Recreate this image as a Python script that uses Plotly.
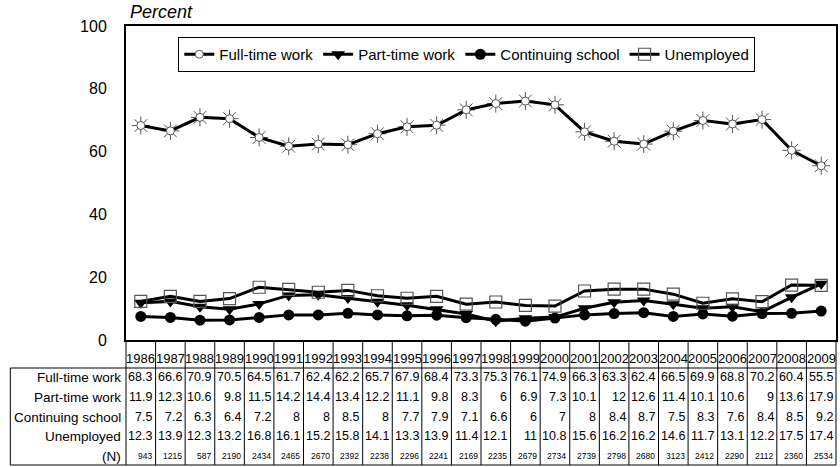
import plotly.graph_objects as go

years = list(range(1986, 2010))
full_time = [68.3, 66.6, 70.9, 70.5, 64.5, 61.7, 62.4, 62.2, 65.7, 67.9, 68.4, 73.3,
             75.3, 76.1, 74.9, 66.3, 63.3, 62.4, 66.5, 69.9, 68.8, 70.2, 60.4, 55.5]
part_time = [11.9, 12.3, 10.6, 9.8, 11.5, 14.2, 14.4, 13.4, 12.2, 11.1, 9.8, 8.3,
             6, 6.9, 7.3, 10.1, 12, 12.6, 11.4, 10.1, 10.6, 9, 13.6, 17.9]
cont_school = [7.5, 7.2, 6.3, 6.4, 7.2, 8, 8, 8.5, 8, 7.7, 7.9, 7.1,
               6.6, 6, 7, 8, 8.4, 8.7, 7.5, 8.3, 7.6, 8.4, 8.5, 9.2]
unemployed = [12.3, 13.9, 12.3, 13.2, 16.8, 16.1, 15.2, 15.8, 14.1, 13.3, 13.9, 11.4,
              12.1, 11, 10.8, 15.6, 16.2, 16.2, 14.6, 11.7, 13.1, 12.2, 17.5, 17.4]
n_counts = [943, 1215, 587, 2190, 2434, 2465, 2670, 2392, 2238, 2296, 2241, 2169,
            2235, 2679, 2734, 2739, 2798, 2680, 3123, 2412, 2290, 2112, 2360, 2534]
row_labels = ["Full-time work", "Part-time work", "Continuing school", "Unemployed", "(N)"]
y_ticks = [0, 20, 40, 60, 80, 100]

FONT = "Liberation Sans, Arial, sans-serif"
fig = go.Figure()

# sun rays for full-time markers (behind)
fig.add_trace(go.Scatter(x=years, y=full_time, mode="markers", showlegend=False,
                         hoverinfo="skip",
                         marker=dict(symbol="asterisk-open", size=15, color="#555",
                                     line=dict(color="#555", width=1))))
fig.add_trace(go.Scatter(x=years, y=full_time, mode="lines+markers", name="Full-time work",
                         line=dict(color="black", width=3),
                         marker=dict(symbol="circle", size=8, color="white",
                                     line=dict(color="#555", width=1))))
fig.add_trace(go.Scatter(x=years, y=part_time, mode="lines+markers", name="Part-time work",
                         line=dict(color="black", width=3),
                         marker=dict(symbol="triangle-down", size=12, color="black")))
fig.add_trace(go.Scatter(x=years, y=cont_school, mode="lines+markers", name="Continuing school",
                         line=dict(color="black", width=3),
                         marker=dict(symbol="circle", size=11, color="black")))
fig.add_trace(go.Scatter(x=years, y=unemployed, mode="lines+markers", name="Unemployed",
                         line=dict(color="black", width=3),
                         marker=dict(symbol="square", size=12, color="rgba(255,255,255,0)",
                                     line=dict(color="#555", width=1.2))))

PLOT_H = 314.0
def py(pix):  # pixel offset below plot bottom -> paper y
    return -pix / PLOT_H

annotations = []
# year row
for yr in years:
    annotations.append(dict(x=yr, y=py(18), xref="x", yref="paper", text=str(yr),
                            showarrow=False, xanchor="center", yanchor="middle",
                            font=dict(family=FONT, size=13, color="black")))
rows = [full_time, part_time, cont_school, unemployed, n_counts]
row_pix = [37, 57, 77, 96, 116]
for label, vals, rp in zip(row_labels, rows, row_pix):
    annotations.append(dict(x=0, y=py(rp), xref="paper", yref="paper", text=label,
                            showarrow=False, xanchor="right", yanchor="middle", xshift=-3,
                            font=dict(family=FONT, size=13.5, color="black")))
    small = label == "(N)"
    for yr, v in zip(years, vals):
        annotations.append(dict(x=yr, y=py(rp), xref="x", yref="paper", text=f"{v:g}",
                                showarrow=False, xanchor="right", yanchor="middle",
                                xshift=13.5,
                                font=dict(family=FONT, size=8.5 if small else 12.5,
                                          color="black")))
annotations.append(dict(x=0.05, y=1.045, xref="paper", yref="paper", text="<i>Percent</i>",
                        showarrow=False, xanchor="center", yanchor="middle",
                        font=dict(family=FONT, size=18, color="black")))

shapes = []
left_x = -116 / 712.0
for k in range(len(years) + 1):
    shapes.append(dict(type="line", xref="paper", yref="paper", x0=k / len(years),
                       x1=k / len(years), y0=0, y1=py(125),
                       line=dict(color="black", width=1)))
for yp in (28, 125):
    shapes.append(dict(type="line", xref="paper", yref="paper", x0=left_x, x1=1,
                       y0=py(yp), y1=py(yp), line=dict(color="black", width=1)))
shapes.append(dict(type="line", xref="paper", yref="paper", x0=left_x, x1=left_x,
                   y0=py(28), y1=py(125), line=dict(color="black", width=1)))

fig.update_layout(
    width=840, height=467,
    margin=dict(l=126, r=2, t=26, b=127),
    paper_bgcolor="white", plot_bgcolor="white",
    font=dict(family=FONT, color="black"),
    showlegend=True,
    legend=dict(orientation="h", x=0.48, xanchor="center", y=0.965, yanchor="top",
                bordercolor="black", borderwidth=1, bgcolor="white",
                font=dict(family=FONT, size=15, color="black"),
                tracegroupgap=0),
    xaxis=dict(range=[1985.5, 2009.5], showticklabels=False, showgrid=False,
               zeroline=False, showline=True, linecolor="black", linewidth=2,
               mirror=True, ticks=""),
    yaxis=dict(range=[0, 100], tickvals=y_ticks, showgrid=False, zeroline=False,
               showline=True, linecolor="black", linewidth=2, mirror=True,
               ticks="", ticklabelstandoff=14,
               tickfont=dict(family=FONT, size=16, color="black")),
    annotations=annotations,
    shapes=shapes,
)

fig.write_html("out.html", config={"displayModeBar": False},
               post_script="document.body.style.margin='0';"
                           "document.body.style.overflow='hidden';")
